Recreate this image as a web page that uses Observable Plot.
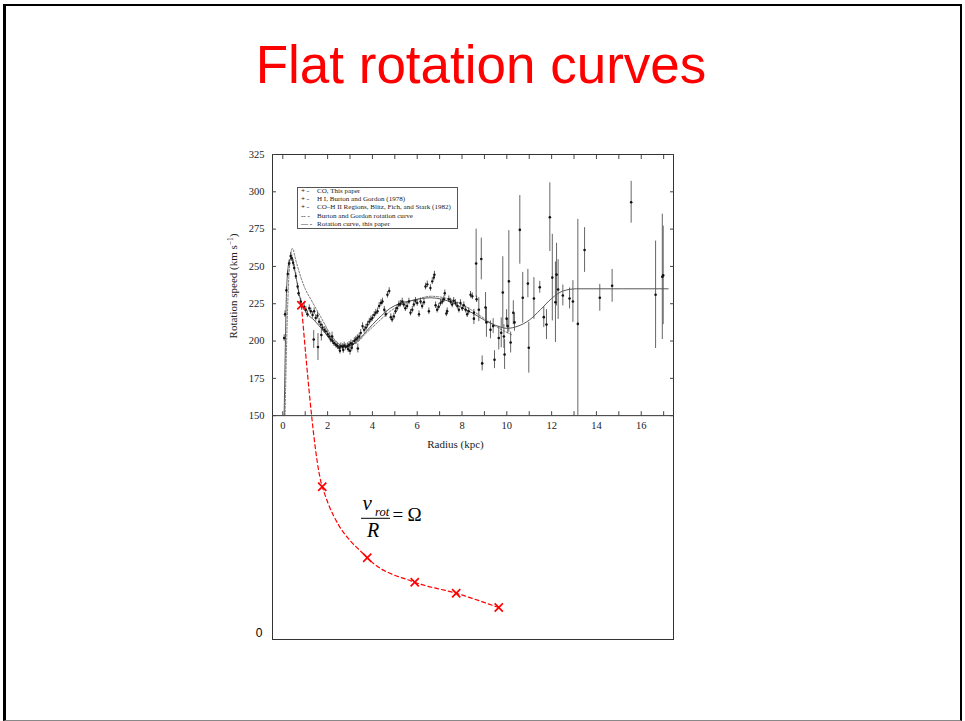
<!DOCTYPE html>
<html><head><meta charset="utf-8">
<script src="https://cdn.jsdelivr.net/npm/d3@7"></script>
<script src="https://cdn.jsdelivr.net/npm/@observablehq/plot@0.6"></script>
<style>
html,body{margin:0;padding:0;background:#fff;}
#page{position:relative;width:965px;height:721px;overflow:hidden;background:#fff;}
#border{position:absolute;left:3px;top:4px;width:959px;height:717px;box-sizing:border-box;border-left:3px solid #000;border-top:2px solid #000;border-right:2px solid #000;border-bottom:1px solid #888;}
#title{position:absolute;left:0;top:38px;width:962px;text-align:center;font:53px/53px 'Liberation Sans',Arial,sans-serif;color:#f00;white-space:nowrap;}
#chart{position:absolute;left:0;top:0;}
#legend{position:absolute;left:297px;top:187px;width:161px;height:42px;box-sizing:border-box;border:1px solid #555;font:7.05px/8.4px 'Liberation Serif',serif;color:#222;background:#fff;}
#legend .inner{position:relative;top:-1.5px;}
#legend .row{height:8.4px;white-space:nowrap;}
#legend .mk{display:inline-block;width:16px;margin-left:3px;font-weight:bold;}
#overlay{position:absolute;left:0;top:0;pointer-events:none;}
</style></head>
<body>
<div id="page">
  <div id="border"></div>
  <div id="title">Flat rotation curves</div>
  <div id="chart"></div>
  <div id="legend"><div class="inner">
    <div class="row"><span class="mk">+ -</span>CO, This paper</div>
    <div class="row"><span class="mk">+ -</span>H I, Burton and Gordon (1978)</div>
    <div class="row"><span class="mk">+ -</span>CO–H II Regions, Blitz, Fich, and Stark (1982)</div>
    <div class="row"><span class="mk">-- -</span>Burton and Gordon rotation curve</div>
    <div class="row"><span class="mk">— -</span>Rotation curve, this paper</div>
  </div></div>
  <svg id="overlay" width="965" height="721">
    <g font-family="'Liberation Serif', serif" fill="#222">
      <text transform="translate(236.5,286) rotate(-90)" text-anchor="middle" font-size="11">Rotation speed (km s<tspan dy="-4" font-size="7.5">−1</tspan><tspan dy="4">)</tspan></text>
      <text x="455.5" y="448" text-anchor="middle" font-size="11">Radius (kpc)</text>
    </g>
    <g font-family="'Liberation Serif', serif" fill="#000">
      <text x="362.5" y="509.5" font-size="21" font-style="italic">v</text>
      <text x="375" y="515.5" font-size="12.5" font-style="italic">rot</text>
      <line x1="361" x2="390" y1="518.3" y2="518.3" stroke="#000" stroke-width="1"/>
      <text x="367" y="536.5" font-size="20" font-style="italic">R</text>
      <text x="392.5" y="521" font-size="19">=</text>
      <text x="407.5" y="520.5" font-size="19">Ω</text>
    </g>
  </svg>
</div>
<script>
// ---- tick labels ----
const yTicks = [150, 175, 200, 225, 250, 275, 300, 325];
const zeroTick = [0];
const xTicks = [0, 2, 4, 6, 8, 10, 12, 14, 16];
const xMinor = [0, 1, 2, 3, 4, 5, 6, 7, 8, 9, 10, 11, 12, 13, 14, 15, 16, 17];

// ---- CO, this paper (radius kpc, speed km/s) ----
const coR = [0.06,0.10,0.16,0.22,0.28,0.35,0.40,0.46,0.51,0.58,
  0.66,0.70,0.80,0.95,1.03,1.10,1.18,1.25,1.33,1.40,
  1.47,1.55,1.62,1.70,1.77,1.85,1.92,2.00,2.07,2.14,
  2.22,2.29,2.37,2.44,2.52,2.55,2.59,2.67,2.70,2.74,
  2.81,2.89,2.92,2.96,3.04,3.08,3.11,3.19,3.26,3.33,
  3.41,3.48,3.56,3.63,3.71,3.78,3.86,3.93,4.00,4.08,
  4.15,4.23,4.30,4.38,4.45,4.53,4.60,4.67,4.75,4.82,
  4.88,4.96,5.03,5.10,5.18,5.25,5.33,5.40,5.47,5.55,
  5.63,5.70,5.78,5.85,5.92,6.00,6.08,6.15,6.22,6.30,
  6.37,6.45,6.52,6.59,6.67,6.74,6.77,6.82,6.89,6.96,
  7.04,7.12,7.19,7.23,7.30,7.34,7.41,7.49,7.56,7.63,
  7.71,7.79,7.86,7.93,8.01,8.08,8.16,8.23,8.30,8.38,
  8.46,8.53,8.65];
const coV = [202,218,234,245,252,257,255.5,252.5,249,243.5,
  236.5,232,226.5,223,221,218,222,220,217.5,220,
  215.5,217,213,211,209,207.5,206.5,204.5,203,201,
  200,198.5,197.5,196.5,195.5,193.5,196.5,196,194,197,
  196,196.5,194.5,197.5,198.5,195.5,198,200,201,202,
  203,205.5,210,207.5,209,211,213,214.5,215.5,217.5,
  219,220,223.5,225.5,226.5,221,218,231,233.5,216,
  214.5,216.5,220,222,224.5,225,226.5,224.5,222,223.5,
  226.5,219,221,224.5,227,225.5,218,226.5,223.5,226,
  236.5,238,220,235.5,240,242.5,244.5,224,221,223,
  225.5,226.5,228,232,218.5,220,228,226.5,224.5,227,
  225.5,223.5,221,225.5,222,224,221,218,220,231,
  230,219,228];

// ---- H I, Burton and Gordon (1978) ----
const hiR = [1.38, 1.57, 1.72, 2.20, 3.00, 3.35];
const hiV = [201, 196, 204, 203, 193.5, 195];
const hiErr = [6, 9, 4, 3, 3, 3];

// ---- CO–H II regions, Blitz, Fich and Stark (1982) ----
const hiiR = [8.53,8.63,8.75,8.86,8.90,9.05,9.09,9.27,9.39,9.45,
  9.64,9.75,9.82,9.87,9.90,9.99,10.04,10.09,10.17,10.29,
  10.34,10.58,10.71,10.94,10.98,11.21,11.47,11.65,11.77,11.92,
  12.03,12.17,12.22,12.29,12.50,12.80,12.95,13.17,13.47,14.15,
  14.70,15.55,16.64,16.94,16.98];
const hiiV = [215,252,221,255,185,222.5,212.5,207.5,210,187.5,
  202,205.5,232.5,203,191,215,210,240,199,219,
  212.5,274.5,229,238.5,195.5,228.5,236,216,211,283,
  242.5,226,244.5,234.5,230.5,228.5,226.5,211.5,261,229,
  237,293,231,243,244];
const hiiDown = [4,23,8,14,5,10,10,6,5,6,
  8,10,24,8,10,6,5,34,7,8,
  6,23,17,9.5,17,14,4,7,10,23,
  29,27,21,20,7,7,14,61.5,15,9,
  11,14,36,42,33];
const hiiUp = [4,23,8,14,5,10,10,6,5,6,
  8,10,24,8,10,6,5,34,7,8,
  6,23,17,9.5,17,14,4,7,10,23,
  29,27,21,20,7,7,14,70,15,9,
  11,14,36,42,33];

// ---- Burton and Gordon rotation curve ----
const bgR = [0.10,0.20,0.30,0.42,0.60,0.80,1.00,1.25,1.70,2.20,2.70,3.20,3.70,4.20,4.80,5.40,6.00,6.60,7.20,7.80,8.40,9.00,9.60,10.25];
const bgV = [150,215,250,262,253,243,235,228,216,203,197,198,205,212,220,225,228,230,229,226,221,215,209,204];

// ---- Rotation curve, this paper ----
const fitR = [0.06,0.10,0.15,0.22,0.30,0.39,0.50,0.65,0.83,1.05,1.40,1.80,2.20,2.60,2.90,3.30,3.70,4.00,4.40,4.80,5.20,5.70,6.20,6.60,7.10,7.60,8.10,8.50,9.00,9.50,10.00,10.50,11.00,11.50,12.00,12.50,13.10,17.20];
const fitV = [150,185,225,247,254,255.5,250,238,225,219,214,207,200,196.5,196.5,199.5,206,211,217,222,225,227,228.5,229,228,225.5,221.5,218.5,214,210.5,208.5,210,214,221,228.5,233.5,235,235];

// ---- red overlay: v_rot / R = Omega ----
const omegaR = [0.83, 1.76, 3.77, 5.89, 7.74, 9.64];
const omegaV = [224, 102.4, 54.8, 38.4, 31.0, 21.4];

const co = coR.map((r, i) => ({r, v: coV[i]}));
const hi = hiR.map((r, i) => ({r, v: hiV[i], lo: hiV[i] - hiErr[i], hi: hiV[i] + hiErr[i]}));
const hii = hiiR.map((r, i) => ({r, v: hiiV[i], lo: hiiV[i] - hiiDown[i], hi: hiiV[i] + hiiUp[i]}));
const bg = bgR.map((r, i) => ({r, v: bgV[i]}));
const fit = fitR.map((r, i) => ({r, v: fitV[i]}));
const omega = omegaR.map((r, i) => ({r, v: omegaV[i]}));

const chart = Plot.plot({
  width: 965, height: 721,
  marginLeft: 272, marginRight: 292, marginTop: 154, marginBottom: 82,
  x: {domain: [-0.46, 17.44]},
  y: {domain: [0, 325]},
  style: {fontFamily: "'Liberation Serif', serif", fontSize: "10.5px", color: "#222", background: "transparent", overflow: "visible"},
  marks: [
    Plot.frame({stroke: "#333", strokeWidth: 1}),
    Plot.ruleY([150], {stroke: "#333", strokeWidth: 1}),
    Plot.axisY(yTicks, {anchor: "left", tickSize: 0, tickPadding: 8, label: null}),
    Plot.axisY(yTicks, {anchor: "left", tickSize: 4, dx: 4, fill: "none", label: null, stroke: "#444"}),
    Plot.axisY(yTicks, {anchor: "right", tickSize: 4, dx: -4, fill: "none", label: null, stroke: "#444"}),
    Plot.axisY(zeroTick, {anchor: "left", tickSize: 0, tickPadding: 10, dy: -6, fontSize: 12, fontFamily: "'Liberation Sans', sans-serif", fill: "#000", label: null}),
    Plot.axisX(xTicks, {anchor: "bottom", tickSize: 0, tickPadding: 0, dy: -218, label: null}),
    Plot.axisX(xMinor, {anchor: "bottom", tickSize: 4, dy: -227.8, fill: "none", label: null, stroke: "#444"}),
    Plot.axisX(xMinor, {anchor: "top", tickSize: 4, dy: 4, fill: "none", label: null, stroke: "#444"}),
    Plot.line(bg, {x: "r", y: "v", stroke: "#555", strokeWidth: 0.8, strokeDasharray: "2,1.6", curve: "monotone-x"}),
    Plot.line(fit, {x: "r", y: "v", stroke: "#444", strokeWidth: 0.9, curve: "monotone-x"}),
    Plot.ruleX(hii, {x: "r", y1: "lo", y2: "hi", stroke: "#555", strokeWidth: 0.9}),
    Plot.ruleX(hi, {x: "r", y1: "lo", y2: "hi", stroke: "#555", strokeWidth: 0.9}),
    Plot.ruleX(co, {x: "r", y1: d => d.v - 2.2, y2: d => d.v + 2.2, stroke: "#333", strokeWidth: 0.8}),
    Plot.dot(hii, {x: "r", y: "v", r: 1.3, fill: "#111"}),
    Plot.dot(hi, {x: "r", y: "v", r: 1.3, fill: "#111"}),
    Plot.dot(co, {x: "r", y: "v", r: 1.2, fill: "#111"}),
    Plot.line(omega, {x: "r", y: "v", stroke: "#f00", strokeWidth: 1.2, strokeDasharray: "4,3", curve: "monotone-x"}),
    Plot.dot(omega, {x: "r", y: "v", symbol: "times", r: 3.8, stroke: "#f00", strokeWidth: 1.7})
  ]
});
document.getElementById("chart").appendChild(chart);
</script>
</body></html>
